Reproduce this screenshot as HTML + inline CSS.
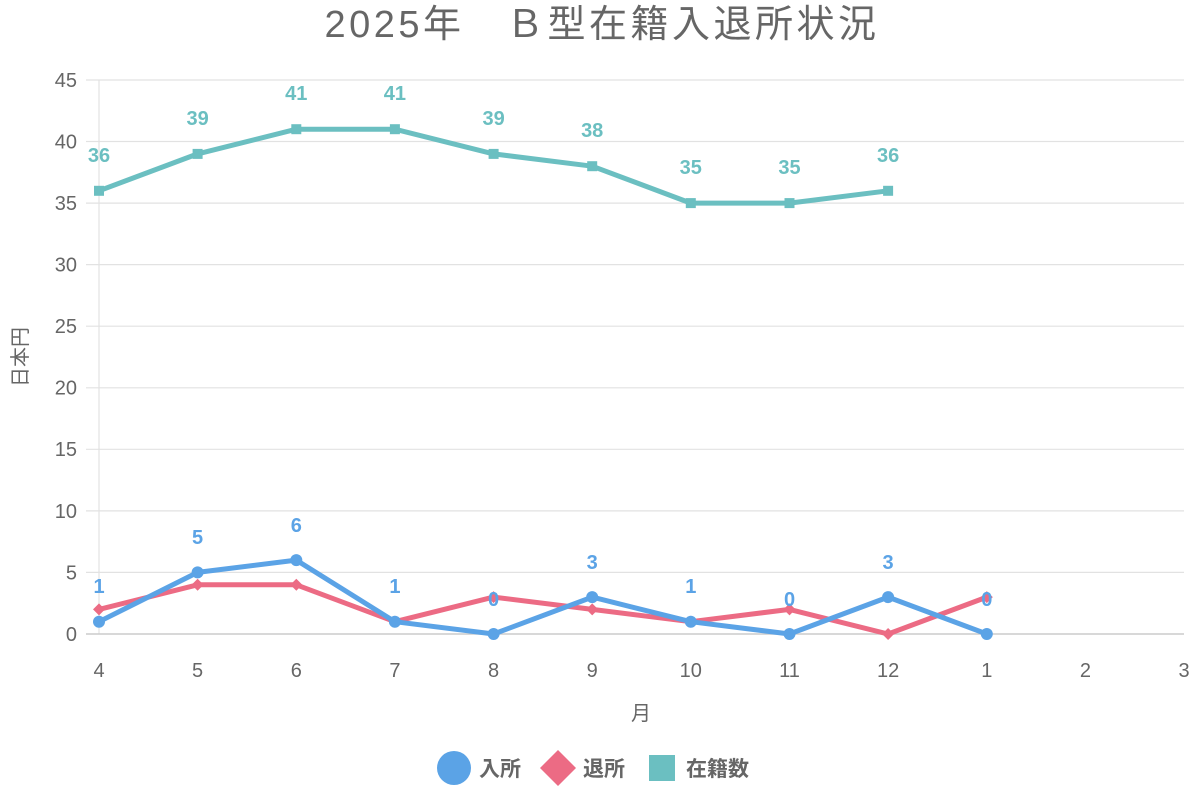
<!DOCTYPE html>
<html><head><meta charset="utf-8"><style>
body{margin:0;background:#fff}
text{font-family:"Liberation Sans","Noto Sans CJK JP",sans-serif}
</style></head><body>
<svg width="1200" height="800" xmlns="http://www.w3.org/2000/svg">
<text x="602" y="37" text-anchor="middle" font-size="38" letter-spacing="3.5" fill="#666">2025年　Ｂ型在籍入退所状況</text>
<g stroke="#e2e2e2" stroke-width="1.2">
<line x1="86" x2="1184" y1="80" y2="80"/><line x1="86" x2="1184" y1="141.5" y2="141.5"/><line x1="86" x2="1184" y1="203.1" y2="203.1"/><line x1="86" x2="1184" y1="264.6" y2="264.6"/><line x1="86" x2="1184" y1="326.2" y2="326.2"/><line x1="86" x2="1184" y1="387.8" y2="387.8"/><line x1="86" x2="1184" y1="449.3" y2="449.3"/><line x1="86" x2="1184" y1="510.9" y2="510.9"/><line x1="86" x2="1184" y1="572.4" y2="572.4"/>
<line x1="99" x2="99" y1="80" y2="634"/>
</g>
<line x1="86" x2="1184" y1="634" y2="634" stroke="#ccc" stroke-width="1.5"/>
<g font-size="20" fill="#666" text-anchor="end">
<text x="77" y="87">45</text><text x="77" y="148.5">40</text><text x="77" y="210">35</text><text x="77" y="271.5">30</text><text x="77" y="333">25</text><text x="77" y="394.5">20</text><text x="77" y="456">15</text><text x="77" y="518">10</text><text x="77" y="579.5">5</text><text x="77" y="641">0</text>
</g>
<g font-size="20" fill="#666" text-anchor="middle">
<text x="99" y="677">4</text><text x="197.6" y="677">5</text><text x="296.3" y="677">6</text><text x="394.9" y="677">7</text><text x="493.6" y="677">8</text><text x="592.2" y="677">9</text><text x="690.8" y="677">10</text><text x="789.5" y="677">11</text><text x="888.1" y="677">12</text><text x="986.8" y="677">1</text><text x="1085.4" y="677">2</text><text x="1184" y="677">3</text>
<text x="641" y="720">月</text>
<text transform="translate(27,357) rotate(-90)">日本円</text>
</g>
<polyline fill="none" stroke="#6bbfc1" stroke-width="5" stroke-linejoin="round" points="99,190.8 197.6,153.9 296.3,129.2 394.9,129.2 493.6,153.9 592.2,166.2 690.8,203.1 789.5,203.1 888.1,190.8"/>
<g fill="#6bbfc1"><rect x="94" y="185.8" width="10" height="10"/><rect x="192.6" y="148.9" width="10" height="10"/><rect x="291.3" y="124.2" width="10" height="10"/><rect x="389.9" y="124.2" width="10" height="10"/><rect x="488.6" y="148.9" width="10" height="10"/><rect x="587.2" y="161.2" width="10" height="10"/><rect x="685.8" y="198.1" width="10" height="10"/><rect x="784.5" y="198.1" width="10" height="10"/><rect x="883.1" y="185.8" width="10" height="10"/></g>
<g font-size="20" font-weight="bold" fill="#6bbfc1" text-anchor="middle">
<text x="99" y="162">36</text><text x="197.6" y="125">39</text><text x="296.3" y="100">41</text><text x="394.9" y="100">41</text><text x="493.6" y="125">39</text><text x="592.2" y="137">38</text><text x="690.8" y="174">35</text><text x="789.5" y="174">35</text><text x="888.1" y="162">36</text>
</g>
<polyline fill="none" stroke="#ec6b84" stroke-width="5" stroke-linejoin="round" points="99,609.4 197.6,584.8 296.3,584.8 394.9,621.7 493.6,597.1 592.2,609.4 690.8,621.7 789.5,609.4 888.1,634 986.8,597.1"/>
<g fill="#ec6b84">
<path d="M99 603.4l6 6-6 6-6-6z"/><path d="M197.6 578.8l6 6-6 6-6-6z"/><path d="M296.3 578.8l6 6-6 6-6-6z"/><path d="M394.9 615.7l6 6-6 6-6-6z"/><path d="M493.6 591.1l6 6-6 6-6-6z"/><path d="M592.2 603.4l6 6-6 6-6-6z"/><path d="M690.8 615.7l6 6-6 6-6-6z"/><path d="M789.5 603.4l6 6-6 6-6-6z"/><path d="M888.1 628l6 6-6 6-6-6z"/><path d="M986.8 591.1l6 6-6 6-6-6z"/>
</g>
<polyline fill="none" stroke="#5ba3e6" stroke-width="5" stroke-linejoin="round" points="99,621.7 197.6,572.4 296.3,560.1 394.9,621.7 493.6,634 592.2,597.1 690.8,621.7 789.5,634 888.1,597.1 986.8,634"/>
<g fill="#5ba3e6">
<circle cx="99" cy="621.7" r="6"/><circle cx="197.6" cy="572.4" r="6"/><circle cx="296.3" cy="560.1" r="6"/><circle cx="394.9" cy="621.7" r="6"/><circle cx="493.6" cy="634" r="6"/><circle cx="592.2" cy="597.1" r="6"/><circle cx="690.8" cy="621.7" r="6"/><circle cx="789.5" cy="634" r="6"/><circle cx="888.1" cy="597.1" r="6"/><circle cx="986.8" cy="634" r="6"/>
</g>
<g font-size="20" font-weight="bold" fill="#5ba3e6" text-anchor="middle">
<text x="99" y="593">1</text><text x="197.6" y="544">5</text><text x="296.3" y="532">6</text><text x="394.9" y="593">1</text><text x="493.6" y="606">0</text><text x="592.2" y="569">3</text><text x="690.8" y="593">1</text><text x="789.5" y="606">0</text><text x="888.1" y="569">3</text><text x="986.8" y="606">0</text>
</g>
<circle cx="454" cy="768" r="17" fill="#5ba3e6"/>
<text x="479" y="776" font-size="21" font-weight="bold" fill="#666">入所</text>
<path d="M558 750l18 18-18 18-18-18z" fill="#ec6b84"/>
<text x="583" y="776" font-size="21" font-weight="bold" fill="#666">退所</text>
<rect x="649" y="755" width="26" height="26" fill="#6bbfc1"/>
<text x="686" y="776" font-size="21" font-weight="bold" fill="#666">在籍数</text>
</svg>
</body></html>
